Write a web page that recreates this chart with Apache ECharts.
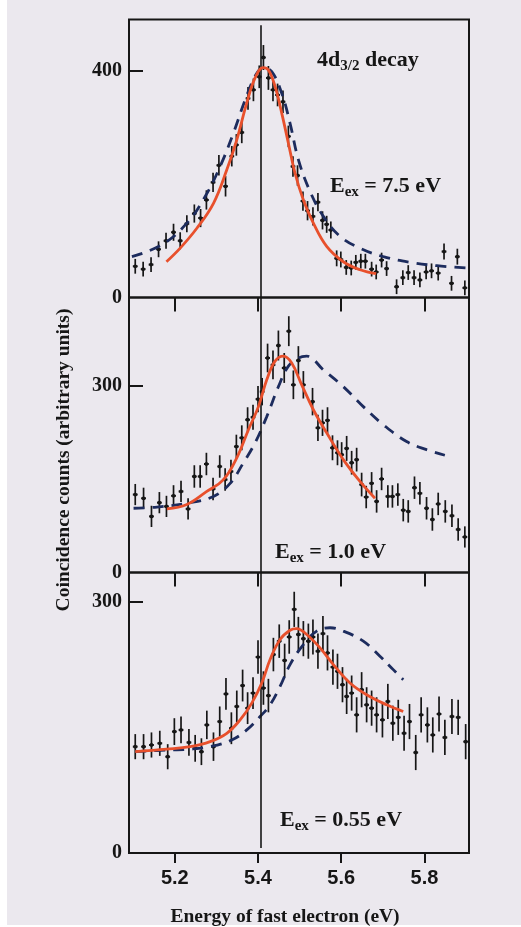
<!DOCTYPE html>
<html><head><meta charset="utf-8">
<script src="https://cdn.jsdelivr.net/npm/echarts@6.0.0/dist/echarts.min.js"></script>
<style>html,body{margin:0;padding:0;background:#ebe8ee;overflow:hidden;width:521px;height:927px}#c{width:521px;height:927px;display:block}</style>
</head><body><div id="c"></div>
<script>
// ---- data (energy eV, counts, error) ----
const xTicks = [5.2, 5.4, 5.6, 5.8];
const refEnergy = 5.407;

const points1 = [[5.105,55,13],[5.124,50,13],[5.143,58,13],[5.161,85,14],[5.179,100,14],[5.197,115,15],[5.213,100,15],[5.229,130,15],[5.247,148,16],[5.262,140,16],[5.276,172,17],[5.292,203,17],[5.306,233,18],[5.322,196,18],[5.337,249,18],[5.348,269,19],[5.361,291,19],[5.376,351,20],[5.389,366,20],[5.403,389,20],[5.413,423,22],[5.425,387,21],[5.436,366,20],[5.447,357,20],[5.460,345,20],[5.473,284,19],[5.484,231,18],[5.495,215,18],[5.508,170,17],[5.519,153,17],[5.532,143,16],[5.544,168,16],[5.555,136,16],[5.565,129,15],[5.575,119,15],[5.589,69,14],[5.599,67,14],[5.612,53,13],[5.624,52,13],[5.635,62,13],[5.647,64,13],[5.658,64,13],[5.673,50,13],[5.684,45,13],[5.697,66,13],[5.709,51,13],[5.733,19,13],[5.748,35,13],[5.761,44,13],[5.775,35,13],[5.789,31,13],[5.804,45,13],[5.817,47,13],[5.833,43,13],[5.847,81,14],[5.865,25,13],[5.879,72,14],[5.897,17,13]];
const fit1 = [[5.180,63],[5.213,87],[5.253,122],[5.293,166],[5.325,225],[5.349,278],[5.373,343],[5.393,387],[5.412,405],[5.425,401],[5.441,372],[5.457,325],[5.473,272],[5.489,219],[5.509,172],[5.533,131],[5.565,90],[5.605,63],[5.645,49],[5.684,42]];
const calc1 = [[5.097,72],[5.169,93],[5.229,131],[5.273,178],[5.309,231],[5.341,290],[5.369,348],[5.393,390],[5.412,405],[5.433,398],[5.457,360],[5.477,307],[5.497,243],[5.525,187],[5.557,143],[5.597,108],[5.645,87],[5.701,72],[5.765,62],[5.830,56],[5.902,52]];

const points2 = [[5.105,125,17],[5.125,119,17],[5.144,90,17],[5.163,112,17],[5.180,106,17],[5.197,123,17],[5.215,130,17],[5.232,102,17],[5.247,154,18],[5.261,154,18],[5.276,174,18],[5.292,134,18],[5.308,170,18],[5.321,149,18],[5.335,162,19],[5.348,202,19],[5.361,216,20],[5.375,245,20],[5.388,249,20],[5.400,278,21],[5.410,290,22],[5.423,344,23],[5.436,333,23],[5.449,364,24],[5.463,328,24],[5.474,387,24],[5.485,301,23],[5.497,340,23],[5.509,301,22],[5.531,274,22],[5.544,232,21],[5.555,240,21],[5.567,244,21],[5.579,200,20],[5.591,192,20],[5.601,189,20],[5.613,199,20],[5.625,176,19],[5.637,181,19],[5.649,141,19],[5.660,121,18],[5.673,143,18],[5.685,114,18],[5.697,150,18],[5.712,122,18],[5.723,122,18],[5.736,125,18],[5.749,100,18],[5.761,98,18],[5.776,136,18],[5.789,127,18],[5.805,103,18],[5.819,85,18],[5.833,110,18],[5.850,98,18],[5.866,91,18],[5.881,69,18],[5.897,57,17]];
const fit2 = [[5.181,102],[5.229,109],[5.277,130],[5.317,149],[5.349,184],[5.377,229],[5.401,266],[5.421,309],[5.441,339],[5.461,347],[5.481,336],[5.505,301],[5.533,261],[5.565,224],[5.605,181],[5.645,146],[5.681,119]];
const calc2 = [[5.101,103],[5.157,105],[5.229,111],[5.293,122],[5.333,143],[5.365,176],[5.393,208],[5.421,250],[5.449,298],[5.473,331],[5.497,344],[5.517,347],[5.557,325],[5.605,298],[5.653,266],[5.701,237],[5.757,210],[5.805,197],[5.849,188]];

const points3 = [[5.105,127,15],[5.125,127,15],[5.144,129,15],[5.164,131,15],[5.183,115,15],[5.199,145,16],[5.215,147,16],[5.234,132,16],[5.249,125,16],[5.264,121,16],[5.277,153,17],[5.293,127,17],[5.308,157,18],[5.323,190,19],[5.336,149,19],[5.349,175,19],[5.363,200,19],[5.375,173,19],[5.388,191,19],[5.400,234,20],[5.413,197,20],[5.425,188,20],[5.437,237,20],[5.451,253,20],[5.464,230,20],[5.475,258,20],[5.487,291,21],[5.497,261,21],[5.509,256,21],[5.521,253,21],[5.532,258,21],[5.544,241,21],[5.556,262,21],[5.567,239,21],[5.580,222,21],[5.591,217,21],[5.603,201,21],[5.613,187,21],[5.625,191,21],[5.637,165,21],[5.649,195,21],[5.661,177,21],[5.673,173,21],[5.685,165,21],[5.699,159,21],[5.712,181,21],[5.724,155,21],[5.737,162,21],[5.751,143,21],[5.764,157,21],[5.779,120,21],[5.792,165,21],[5.807,153,21],[5.820,141,21],[5.835,166,21],[5.849,138,21],[5.866,163,21],[5.881,162,21],[5.899,133,21]];
const fit3 = [[5.105,121],[5.181,124],[5.237,127],[5.285,133],[5.325,143],[5.357,159],[5.385,179],[5.409,203],[5.429,231],[5.453,255],[5.477,266],[5.493,268],[5.517,261],[5.549,245],[5.581,225],[5.621,203],[5.661,189],[5.709,177],[5.749,169]];
const calc3 = [[5.105,121],[5.181,123],[5.237,124],[5.285,127],[5.337,135],[5.373,147],[5.405,163],[5.429,177],[5.453,199],[5.477,225],[5.509,249],[5.541,265],[5.573,269],[5.605,265],[5.653,253],[5.693,235],[5.725,219],[5.749,207]];

const yMax = [490, 441, 335];
const yLabelVals = [[0, 400], [0, 300], [0, 300]];
const labels = ['7.5', '1.0', '0.55'];

// ---- layout ----
const grids = [
  {left: 129, width: 340, top: 19.5, height: 278},
  {left: 129, width: 340, top: 297.5, height: 275},
  {left: 129, width: 340, top: 572.5, height: 280.5}
];
const BG = '#ebe8ee', INK = '#161616', RED = '#e8502c', NAVY = '#1d2c5e';
const serif = '"Liberation Serif", "Times New Roman", serif';

function errRender(params, api) {
  const x = api.value(0), y = api.value(1), e = api.value(2);
  const p = api.coord([x, y]), lo = api.coord([x, y - e]), hi = api.coord([x, y + e]);
  return {type: 'group', children: [
    {type: 'line', shape: {x1: p[0], y1: lo[1], x2: p[0], y2: hi[1]}, style: {stroke: INK, lineWidth: 1.7}},
    {type: 'line', shape: {x1: p[0] - 2.4, y1: p[1], x2: p[0] + 2.4, y2: p[1]}, style: {stroke: INK, lineWidth: 2}},
    {type: 'circle', shape: {cx: p[0], cy: p[1], r: 1.9}, style: {fill: INK}}
  ]};
}

const pts = [points1, points2, points3], fits = [fit1, fit2, fit3], calcs = [calc1, calc2, calc3];
const xAxes = [], yAxes = [], series = [];
grids.forEach((g, i) => {
  const last = i === 2;
  xAxes.push({
    type: 'value', gridIndex: i, min: 5.09, max: 5.907,
    axisLine: {show: false}, splitLine: {show: false},
    axisTick: {show: true, inside: false, length: last ? 10 : 14, customValues: xTicks, lineStyle: {color: INK, width: 2}},
    axisLabel: {show: last, customValues: xTicks, margin: 15, color: INK, fontFamily: '"Liberation Sans", Arial, sans-serif', fontWeight: 'bold', fontSize: 20, formatter: v => v.toFixed(1)}
  });
  yAxes.push({
    type: 'value', gridIndex: i, min: 0, max: yMax[i],
    axisLine: {show: false}, splitLine: {show: false},
    axisTick: {show: true, inside: true, length: 14, customValues: [yLabelVals[i][1]], lineStyle: {color: INK, width: 2}},
    axisLabel: {show: true, customValues: yLabelVals[i], margin: 7, color: INK, fontFamily: serif, fontWeight: 'bold', fontSize: 20}
  });
  series.push({
    type: 'custom', xAxisIndex: i, yAxisIndex: i, renderItem: errRender, z: 3,
    data: pts[i], encode: {x: 0, y: 1}, clip: false
  });
  series.push({
    type: 'line', xAxisIndex: i, yAxisIndex: i, data: calcs[i], smooth: 0.4, showSymbol: false, z: 4,
    lineStyle: {color: NAVY, width: 2.8, type: [11, 8]}
  });
  series.push({
    type: 'line', xAxisIndex: i, yAxisIndex: i, data: fits[i], smooth: 0.4, showSymbol: false, z: 5,
    lineStyle: {color: RED, width: 2.8},
    markLine: {silent: true, symbol: 'none', label: {show: false},
      lineStyle: {color: INK, width: 1.6, type: 'solid'},
      data: [[{coord: [refEnergy, i === 0 ? 480 : yMax[i]]}, {coord: [refEnergy, i === 2 ? 6 : 0]}]]}
  });
});

function eex(value) {
  return {
    text: '{m|E}{s|ex}{m| = ' + value + ' eV}',
    rich: {
      m: {fontFamily: serif, fontWeight: 'bold', fontSize: 22, lineHeight: 28, fill: INK, verticalAlign: 'middle'},
      s: {fontFamily: serif, fontWeight: 'bold', fontSize: 15, lineHeight: 15, fill: INK, verticalAlign: 'bottom'}
    },
    verticalAlign: 'middle', align: 'left'
  };
}

const chart = echarts.init(document.getElementById('c'), null, {renderer: 'canvas', width: 521, height: 927});
chart.setOption({
  backgroundColor: BG,
  animation: false,
  grid: grids.map(g => Object.assign({show: true, borderColor: INK, borderWidth: 2, backgroundColor: 'transparent'}, g)),
  xAxis: xAxes, yAxis: yAxes, series: series,
  graphic: [
    {type: 'rect', left: 0, top: 0, shape: {width: 7, height: 927}, style: {fill: '#ffffff'}, z: 0},
    {type: 'rect', left: 0, top: 925, shape: {width: 521, height: 2}, style: {fill: '#ffffff'}, z: 0},
    {type: 'text', x: 317, y: 60, z: 10, style: {
      text: '{m|4d}{s|3/2}{m| decay}',
      rich: {
        m: {fontFamily: serif, fontWeight: 'bold', fontSize: 22, lineHeight: 28, fill: INK, verticalAlign: 'middle'},
        s: {fontFamily: serif, fontWeight: 'bold', fontSize: 15, lineHeight: 15, fill: INK, verticalAlign: 'bottom'}
      }, verticalAlign: 'middle', align: 'left'}},
    {type: 'text', x: 330, y: 186, z: 10, style: eex(labels[0])},
    {type: 'text', x: 275, y: 552, z: 10, style: eex(labels[1])},
    {type: 'text', x: 280, y: 820, z: 10, style: eex(labels[2])},
    {type: 'text', x: 285, y: 917, z: 10, style: {text: 'Energy of fast electron (eV)', fontFamily: serif, fontWeight: 'bold', fontSize: 19.5, fill: INK, align: 'center', verticalAlign: 'middle'}},
    {type: 'text', x: 64, y: 460, rotation: Math.PI / 2, z: 10, style: {text: 'Coincidence counts (arbitrary units)', fontFamily: serif, fontWeight: 'bold', fontSize: 19.5, fill: INK, align: 'center', verticalAlign: 'middle'}}
  ]
});
</script></body></html>
